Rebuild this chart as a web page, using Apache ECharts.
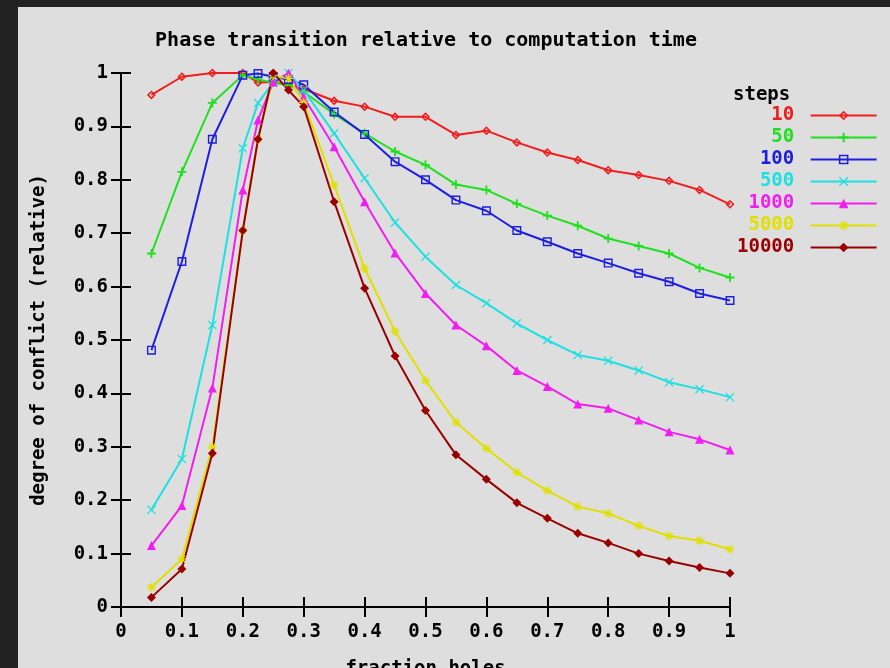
<!DOCTYPE html>
<html>
<head>
<meta charset="utf-8">
<script src="https://cdn.jsdelivr.net/npm/echarts@6.0.0/dist/echarts.min.js"></script>
<style>
  html, body { margin: 0; padding: 0; background: #222222; width: 890px; height: 668px; overflow: hidden; }
  #container { position: absolute; left: 18px; top: 7px; width: 872px; height: 661px; }
</style>
</head>
<body>
<div id="container"></div>
<script>
// fraction of holes (x) and relative degree of conflict per number of steps
var fractionHoles = [0.05, 0.1, 0.15, 0.2, 0.225, 0.25, 0.275, 0.3, 0.35, 0.4, 0.45, 0.5,
    0.55, 0.6, 0.65, 0.7, 0.75, 0.8, 0.85, 0.9, 0.95, 1.0];

var steps10 = [0.959, 0.993, 1.0, 1.0, 0.982, 0.983, 0.977, 0.970, 0.948, 0.937, 0.918, 0.918,
    0.884, 0.892, 0.870, 0.851, 0.837, 0.818, 0.809, 0.798, 0.781, 0.754];
var steps50 = [0.662, 0.815, 0.944, 0.996, 0.988, 0.982, 0.977, 0.965, 0.923, 0.887, 0.853, 0.828,
    0.791, 0.781, 0.755, 0.733, 0.714, 0.690, 0.676, 0.662, 0.635, 0.617];
var steps100 = [0.481, 0.647, 0.876, 0.996, 0.999, 0.993, 0.988, 0.978, 0.927, 0.885, 0.834, 0.800,
    0.762, 0.742, 0.705, 0.684, 0.662, 0.644, 0.625, 0.609, 0.587, 0.574];
var steps500 = [0.182, 0.277, 0.528, 0.859, 0.944, 0.982, 1.0, 0.968, 0.887, 0.803, 0.720, 0.656,
    0.603, 0.569, 0.531, 0.500, 0.472, 0.461, 0.443, 0.421, 0.408, 0.393];
var steps1000 = [0.115, 0.190, 0.410, 0.781, 0.912, 0.983, 1.0, 0.955, 0.862, 0.759, 0.663, 0.587,
    0.528, 0.489, 0.443, 0.413, 0.380, 0.372, 0.350, 0.328, 0.314, 0.294];
var steps5000 = [0.037, 0.090, 0.300, 0.705, 0.876, 0.995, 0.990, 0.945, 0.790, 0.634, 0.516, 0.424,
    0.346, 0.297, 0.252, 0.218, 0.188, 0.175, 0.152, 0.133, 0.124, 0.108];
var steps10000 = [0.018, 0.071, 0.288, 0.705, 0.876, 1.0, 0.968, 0.937, 0.759, 0.597, 0.470, 0.368,
    0.285, 0.239, 0.195, 0.166, 0.138, 0.120, 0.100, 0.086, 0.074, 0.063];

var stepNames = ['10', '50', '100', '500', '1000', '5000', '10000'];
var stepValues = [steps10, steps50, steps100, steps500, steps1000, steps5000, steps10000];

var colors = ['#f01e1e', '#1ee01e', '#1e1ee0', '#1ee0e0', '#f01ef0', '#e0e000', '#990000'];
// gnuplot-like point types
var symbols = [
    'path://M5,0L10,5L5,10L0,5Z M5,2.4L2.4,5L5,7.6L7.6,5Z',
    'path://M4,0H6V4H10V6H6V10H4V6H0V4H4Z',
    'path://M0,0H10V10H0Z M1.6,1.6V8.4H8.4V1.6Z',
    'path://M1,0L5,4L9,0L10,1L6,5L10,9L9,10L5,6L1,10L0,9L4,5L0,1Z',
    'triangle',
    'path://M4.3,0H5.7V3.3L8.1,0.9L9.1,1.9L6.7,4.3H10V5.7H6.7L9.1,8.1L8.1,9.1L5.7,6.7V10H4.3V6.7L1.9,9.1L0.9,8.1L3.3,5.7H0V4.3H3.3L0.9,1.9L1.9,0.9L4.3,3.3Z',
    'diamond'
];

var font = 'DejaVu Sans Mono';

var chart = echarts.init(document.getElementById('container'));

var series = [];
var legendData = [];
stepNames.forEach(function (name, i) {
    var data = [];
    fractionHoles.forEach(function (x, j) {
        data.push([x, stepValues[i][j]]);
    });
    series.push({
        name: name,
        type: 'line',
        data: data,
        symbol: symbols[i],
        symbolSize: 9,
        animation: false,
        lineStyle: { color: colors[i], width: 2 },
        itemStyle: { color: colors[i] }
    });
    legendData.push({ name: name, textStyle: { color: colors[i] } });
});

function tickLabel(v) {
    return String(+v.toFixed(1));
}

var tickStyle = { show: true, inside: true, length: 10, lineStyle: { color: '#000', width: 2 } };
var lineStyle = { show: true, lineStyle: { color: '#000', width: 2 } };

var option = {
    backgroundColor: '#dedede',
    graphic: [{
        type: 'text',
        x: 408,
        y: 34,
        style: {
            text: 'Phase transition relative to computation time',
            font: 'bold 20px "DejaVu Sans Mono"',
            fill: '#000',
            textAlign: 'center',
            textVerticalAlign: 'middle'
        }
    }, {
        type: 'text',
        x: 715,
        y: 88,
        style: {
            text: 'steps',
            font: 'bold 19px "DejaVu Sans Mono"',
            fill: '#000',
            textAlign: 'left',
            textVerticalAlign: 'middle'
        }
    }],
    legend: {
        data: legendData,
        orient: 'vertical',
        left: 719,
        top: 99,
        padding: 0,
        align: 'right',
        itemWidth: 66,
        itemHeight: 12,
        itemGap: 3,
        formatter: function (name) {
            return ('     ' + name).slice(-5) + ' ';
        },
        textStyle: { fontFamily: font, fontSize: 19, fontWeight: 'bold', lineHeight: 14 }
    },
    grid: {
        left: 103,
        top: 66,
        right: 160,
        bottom: 61,
        containLabel: false,
        outerBoundsMode: 'none'
    },
    xAxis: [{
        type: 'value',
        min: 0,
        max: 1,
        interval: 0.1,
        name: 'fraction holes',
        nameLocation: 'middle',
        nameGap: 53,
        nameTextStyle: { fontFamily: font, fontSize: 19, fontWeight: 'bold', color: '#000' },
        axisLine: lineStyle,
        axisTick: tickStyle,
        splitLine: { show: false },
        axisLabel: {
            formatter: tickLabel,
            margin: 16,
            fontFamily: font,
            fontSize: 19,
            fontWeight: 'bold',
            color: '#000'
        }
    }, {
        type: 'value',
        position: 'top',
        min: 0,
        max: 1,
        interval: 0.1,
        axisLine: lineStyle,
        axisTick: tickStyle,
        splitLine: { show: false },
        axisLabel: { show: false }
    }],
    yAxis: [{
        type: 'value',
        min: 0,
        max: 1,
        interval: 0.1,
        name: 'degree of conflict (relative)',
        nameLocation: 'middle',
        nameGap: 72,
        nameTextStyle: { fontFamily: font, fontSize: 19, fontWeight: 'bold', color: '#000' },
        axisLine: lineStyle,
        axisTick: tickStyle,
        splitLine: { show: false },
        axisLabel: {
            formatter: tickLabel,
            margin: 13,
            fontFamily: font,
            fontSize: 19,
            fontWeight: 'bold',
            color: '#000'
        }
    }, {
        type: 'value',
        position: 'right',
        min: 0,
        max: 1,
        interval: 0.1,
        axisLine: lineStyle,
        axisTick: tickStyle,
        splitLine: { show: false },
        axisLabel: { show: false }
    }],
    series: series
};

chart.setOption(option);
</script>
</body>
</html>
